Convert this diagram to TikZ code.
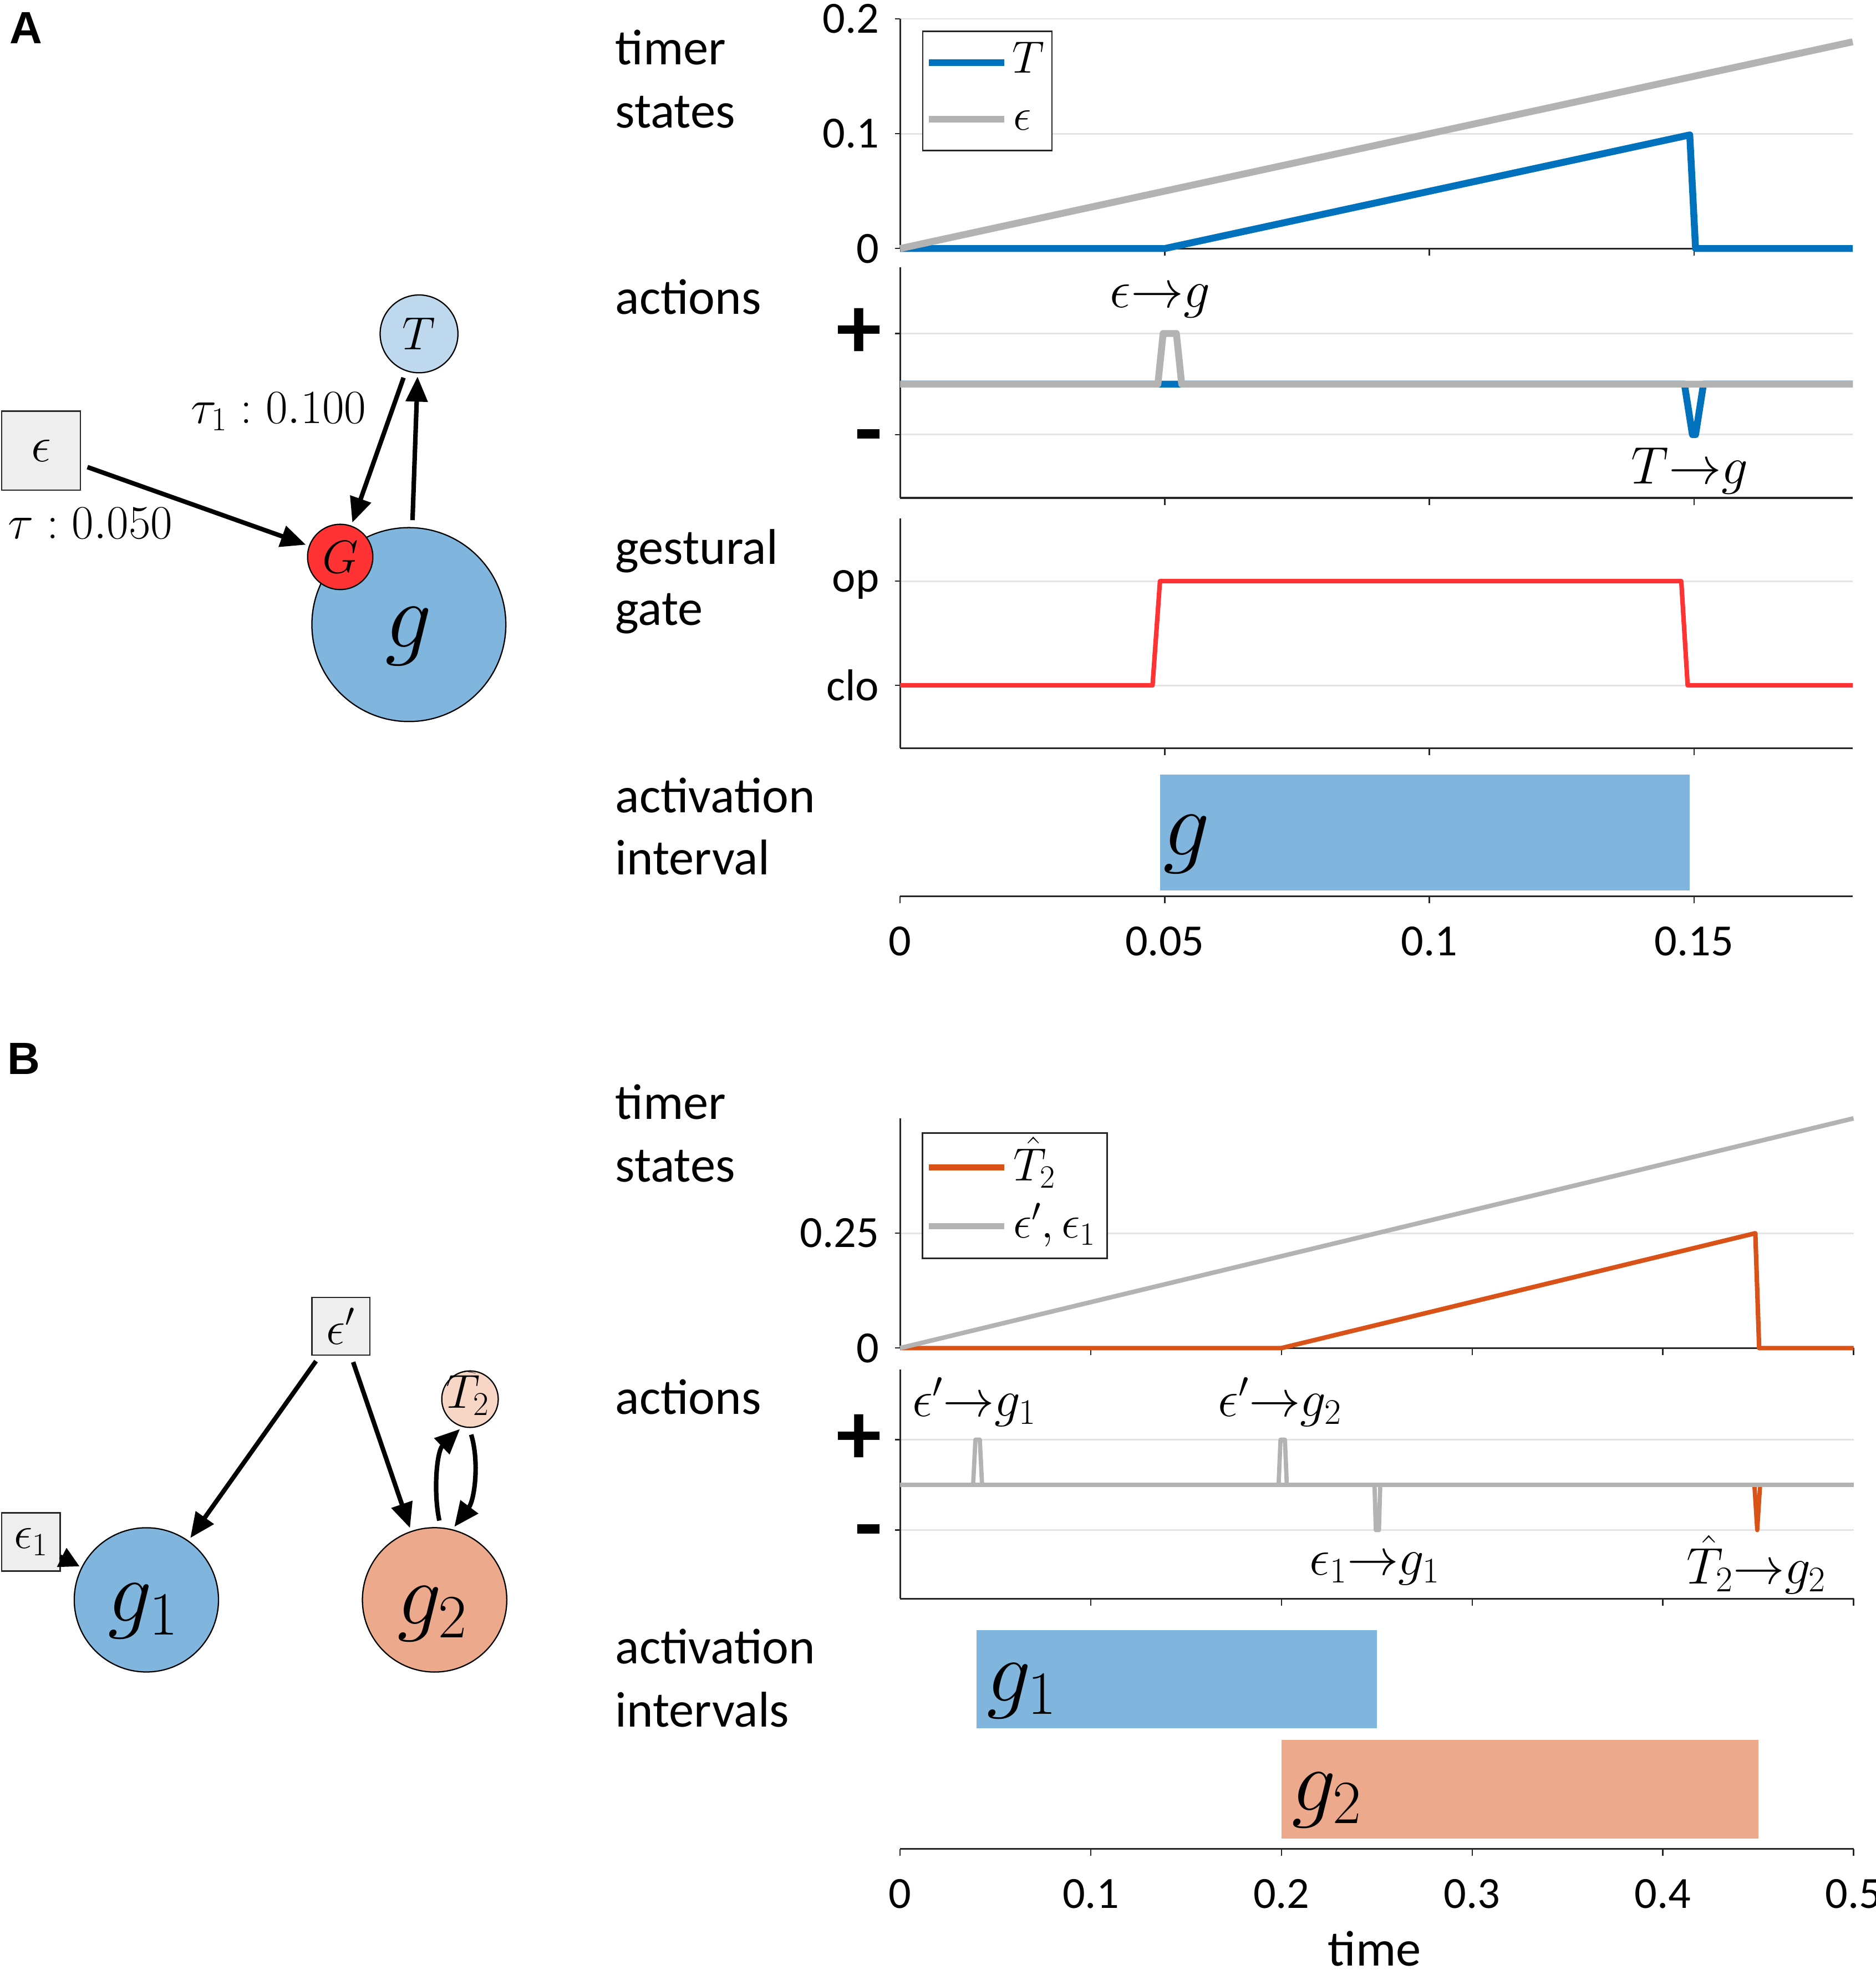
\RequirePackage{fix-cm}
\documentclass[tikz,border=0pt]{standalone}
\usepackage{graphicx}
\usepackage{fontspec}
\usetikzlibrary{arrows.meta}
\newfontfamily\carlito{Carlito}
\newfontfamily\headfont{Liberation Sans}
\newcommand\setfs[1]{\fontsize{#1}{#1}\selectfont}
\definecolor{gblue}{RGB}{128,182,222}
\definecolor{tblue}{RGB}{190,216,238}
\definecolor{gred}{RGB}{255,51,51}
\definecolor{boxgray}{RGB}{238,238,238}
\definecolor{tpeach}{RGB}{248,214,198}
\definecolor{gsalmon}{RGB}{236,169,139}
\definecolor{mblue}{RGB}{0,114,189}
\definecolor{morange}{RGB}{217,83,25}
\definecolor{lgray}{RGB}{179,179,179}
\definecolor{gridc}{RGB}{228,228,228}
\definecolor{axc}{RGB}{38,38,38}
\definecolor{gatered}{RGB}{255,51,51}
\tikzset{
  net/.style={draw=black, line width=1pt, circle, inner sep=0pt, outer sep=0pt},
  ebox/.style={draw=axc, line width=1pt, fill=boxgray, inner sep=0pt, outer sep=0pt},
  arr/.style={line width=3.6pt, -{Triangle[length=20pt,width=17pt]}, shorten <=6pt, shorten >=3pt},
  axline/.style={line width=1.4pt, draw=axc},
  gridl/.style={line width=1.3pt, draw=gridc},
  tickm/.style={line width=1pt, draw=axc},
  lab/.style={font=\carlito\setfs{40}, anchor=base west, inner sep=0pt},
  ticklab/.style={font=\carlito\setfs{35.5}, inner sep=0pt},
  ylab/.style={ticklab, anchor=east, xshift=-16.5pt},
  xlab/.style={ticklab, yshift=-36pt},
  pm/.style={font=\carlito\bfseries\setfs{72}, inner sep=0pt, anchor=east},
  panel/.style={font=\headfont\bfseries\setfs{36}, inner sep=0pt},
  mlab/.style={inner sep=0pt},
  legbox/.style={draw=axc, line width=1.2pt, fill=white},
}
\begin{document}
\begin{tikzpicture}[x=1pt, y=-1pt]
\useasboundingbox (0,0) rectangle (1494,1569.5);
\fill[white] (0,0) rectangle (1494,1569.5);

%================ PANEL A : network =================
\node[panel] (labA) at (20.9,22.5) {A};
\node[ebox, minimum width=62.6pt, minimum height=63pt, font=\setfs{40}] (eps) at (32.7,359) {$\epsilon$};
\node[net, fill=tblue, minimum size=62pt, font=\setfs{37}] (T) at (333.8,266) {$T$};
\node[net, fill=gblue, minimum size=154.5pt] (g) at (325.7,497.6) {};
\node[mlab, font=\setfs{74}] (glab) at (325.4,507) {$g$};
\node[net, fill=gred, minimum size=52pt, font=\setfs{37}] (G) at (271,443.7) {$G$};
\draw[arr] (eps) -- (G);
\draw[arr] (T) -- (G);
\draw[arr] (g) -- (T);
\node[mlab, font=\setfs{38}] (tau1) at (222,328) {$\tau_1 : 0.100$};
\node[mlab, font=\setfs{38}] (tau0) at (72,417) {$\tau : 0.050$};

%================ PANEL A : left labels =================
\node[lab] (aL1) at (490,51.5) {timer};
\node[lab] (aL2) at (490,101.6) {states};
\node[lab] (aL3) at (490,250.3) {actions};
\node[lab] (aL4) at (490,449.6) {gestural};
\node[lab] (aL5) at (490,498) {gate};
\node[lab] (aL6) at (490,647.4) {activation};
\node[lab] (aL7) at (490,696.8) {interval};

%---- A1 timer states
\begin{scope}[shift={(717,198)}, x=4216pt, y=915pt]
  \draw[gridl] (0,0.1) -- (0.18,0.1);
  \draw[gridl] (0,0.2) -- (0.18,0.2);
  \draw[axline] (0,0) -- (0.18,0);
  \draw[axline] (0,0) -- (0,0.2);
  \foreach \xx in {0.05,0.1,0.15} \draw[tickm] (\xx,0) -- ++(0pt,-5.6pt);
  \foreach \vv in {0,0.1,0.2} \draw[tickm] (0,\vv) -- ++(-4pt,0pt);
  \node[ylab] at (0,0.2) {0.2};
  \node[ylab] at (0,0.1) {0.1};
  \node[ylab] at (0,0) {0};
  \draw[mblue, line width=5.5pt, line join=round] (0,0) -- (0.05,0) -- (0.1492,0.0989) -- (0.1503,0) -- (0.18,0);
  \draw[lgray, line width=5.5pt] (0,0) -- (0.18,0.18);
\end{scope}
\draw[legbox] (735,25) rectangle (838,120);
\draw[mblue, line width=5.5pt] (740,50) -- (800,50);
\draw[lgray, line width=5.5pt] (740,95) -- (800,95);
\node[mlab, font=\setfs{36}] (legT) at (819,46) {$T$};
\node[mlab, font=\setfs{36}] (legE) at (814.5,96) {$\epsilon$};

%---- A2 actions
\begin{scope}[shift={(717,306)}, x=4216pt, y=40.3pt]
  \draw[gridl] (0,1) -- (0.18,1);
  \draw[gridl] (0,-1) -- (0.18,-1);
  \draw[axline] (0,-2.25) -- (0.18,-2.25);
  \draw[axline] (0,-2.25) -- (0,2.31);
  \foreach \xx in {0.05,0.1,0.15} \draw[tickm] (\xx,-2.25) -- ++(0pt,-5.6pt);
  \foreach \vv in {-1,1} \draw[tickm] (0,\vv) -- ++(-4pt,0pt);
  \draw[mblue, line width=5.5pt, line join=round] (0,0) -- (0.1482,0) -- (0.1497,-1) -- (0.1503,-1) -- (0.1518,0) -- (0.18,0);
  \draw[lgray, line width=5.5pt, line join=round] (0,0) -- (0.0487,0) -- (0.0497,1) -- (0.0522,1) -- (0.0532,0) -- (0.18,0);
\end{scope}
\node[pm] (aplus) at (702.5,265.5) {+};
\node[pm] (aminus) at (703,354.5) {-};
\node[mlab, font=\setfs{42}] (actA1) at (924,240) {$\epsilon{\to}g$};
\node[mlab, font=\setfs{42}] (actA2) at (1346,375) {$T{\to}g$};

%---- A3 gestural gate
\begin{scope}[shift={(717,546)}, x=4216pt, y=83pt]
  \draw[gridl] (0,0) -- (0.18,0);
  \draw[gridl] (0,1) -- (0.18,1);
  \draw[axline] (0,-0.602) -- (0.18,-0.602);
  \draw[axline] (0,-0.602) -- (0,1.602);
  \foreach \xx in {0.05,0.1,0.15} \draw[tickm] (\xx,-0.602) -- ++(0pt,-5.6pt);
  \foreach \vv in {0,1} \draw[tickm] (0,\vv) -- ++(-4pt,0pt);
  \node[ylab, yshift=-3pt] at (0,1) {op};
  \node[ylab] at (0,0) {clo};
  \draw[gatered, line width=3.6pt, line join=round] (0,0) -- (0.0477,0) -- (0.0491,1) -- (0.1476,1) -- (0.1488,0) -- (0.18,0);
\end{scope}

%---- A4 activation interval
\fill[gblue] (924,617) rectangle (1346,709.5);
\node[mlab, font=\setfs{74}] (actg) at (945,672.6) {$g$};
\begin{scope}[shift={(717,714)}, x=4216pt]
  \draw[axline] (0,0) -- (0.18,0);
  \foreach \xx in {0,0.05,0.1,0.15} \draw[tickm] (\xx,0) -- ++(0pt,-5.6pt);
  \node[xlab] at (0,0) {0};
  \node[xlab] at (0.05,0) {0.05};
  \node[xlab] at (0.1,0) {0.1};
  \node[xlab] at (0.15,0) {0.15};
\end{scope}

%================ PANEL B : network =================
\node[panel] (labB) at (19,843.5) {B};
\node[ebox, minimum width=46pt, minimum height=46pt, font=\setfs{38}] (ep) at (271.5,1056.5) {$\epsilon'$};
\node[net, fill=tpeach, minimum size=45pt] (T2) at (374.4,1114.7) {};
\node[mlab, font=\setfs{38}] (T2lab) at (372.6,1110) {$\widehat{T}_2$};
\node[ebox, minimum width=46.5pt, minimum height=46.4pt, font=\setfs{37}] (e1) at (24.65,1228.5) {$\epsilon_1$};
\node[net, fill=gblue, minimum size=114.9pt] (g1) at (116.6,1274.6) {};
\node[mlab, font=\setfs{70}] (g1lab) at (114,1283.8) {$g_1$};
\node[net, fill=gsalmon, minimum size=115pt] (g2) at (346.2,1274.6) {};
\node[mlab, font=\setfs{70}] (g2lab) at (344.4,1285.7) {$g_2$};
\draw[arr] (ep) -- (g1);
\draw[arr] (ep) -- (g2);
\draw[arr, shorten <=0pt, shorten >=2pt, -{Triangle[length=16pt,width=16pt]}] (e1) -- (g1);
\draw[arr] (g2.85) .. controls (345,1188) and (348,1156) .. (T2.255);
\draw[arr] (T2.268) .. controls (382,1165) and (378,1195) .. (g2.76);

%================ PANEL B : left labels =================
\node[lab] (bL1) at (490,891.7) {timer};
\node[lab] (bL2) at (490,941.6) {states};
\node[lab] (bL3) at (490,1126.5) {actions};
\node[lab] (bL4) at (490,1325.3) {activation};
\node[lab] (bL5) at (490,1375.9) {intervals};

%---- B1 timer states
\begin{scope}[shift={(717,1074)}, x=1519pt, y=366pt]
  \draw[gridl] (0,0.25) -- (0.5,0.25);
  \draw[axline] (0,0) -- (0.5,0);
  \draw[axline] (0,0) -- (0,0.5);
  \foreach \xx in {0.1,0.2,0.3,0.4,0.5} \draw[tickm] (\xx,0) -- ++(0pt,-5.6pt);
  \foreach \vv in {0,0.25} \draw[tickm] (0,\vv) -- ++(-4pt,0pt);
  \node[ylab] at (0,0.25) {0.25};
  \node[ylab] at (0,0) {0};
  \draw[morange, line width=3.6pt, line join=round] (0,0) -- (0.2,0) -- (0.4485,0.25) -- (0.4505,0) -- (0.5,0);
  \draw[lgray, line width=3.6pt] (0,0) -- (0.5,0.5);
\end{scope}
\draw[legbox] (734.7,902.7) rectangle (881.8,1002.5);
\draw[morange, line width=5pt] (740,930) -- (800,930);
\draw[lgray, line width=5pt] (740,977) -- (800,977);
\node[mlab, font=\setfs{37}] (legT2) at (824,926) {$\hat{T}_2$};
\node[mlab, font=\setfs{37}] (legE2) at (840,976) {$\epsilon', \epsilon_1$};

%---- B2 actions
\begin{scope}[shift={(717,1183)}, x=1519pt, y=36pt]
  \draw[gridl] (0,1) -- (0.5,1);
  \draw[gridl] (0,-1) -- (0.5,-1);
  \draw[axline] (0,-2.52) -- (0.5,-2.52);
  \draw[axline] (0,-2.52) -- (0,2.55);
  \foreach \xx in {0.1,0.2,0.3,0.4,0.5} \draw[tickm] (\xx,-2.52) -- ++(0pt,-5.6pt);
  \foreach \vv in {-1,1} \draw[tickm] (0,\vv) -- ++(-4pt,0pt);
  \draw[morange, line width=3.4pt, line join=round] (0,0) -- (0.448,0) -- (0.4495,-1) -- (0.451,0) -- (0.5,0);
  \draw[lgray, line width=3.4pt, line join=round] (0,0) -- (0.0383,0) -- (0.0395,1) -- (0.0418,1) -- (0.043,0) -- (0.1985,0) -- (0.1995,1) -- (0.2018,1) -- (0.2028,0) -- (0.5,0);
  \draw[lgray, line width=3.4pt, line join=round] (0,0) -- (0.2488,0) -- (0.2495,-1) -- (0.2511,-1) -- (0.2518,0) -- (0.5,0);
\end{scope}
\node[pm] (bplus) at (702.5,1147) {+};
\node[pm] (bminus) at (703,1226.5) {-};
\node[mlab, font=\setfs{41}] (actB1) at (776,1117) {$\epsilon'{\to}g_1$};
\node[mlab, font=\setfs{41}] (actB2) at (1019.5,1117) {$\epsilon'{\to}g_2$};
\node[mlab, font=\setfs{41}] (actB3) at (1095,1250) {$\epsilon_1{\to}g_1$};
\node[mlab, font=\setfs{41}] (actB4) at (1399,1246.5) {$\hat{T}_2{\to}g_2$};

%---- B3 activation intervals
\fill[gblue] (777.8,1298.6) rectangle (1096.8,1377);
\fill[gsalmon] (1020.8,1386) rectangle (1400.6,1465);
\node[mlab, font=\setfs{70}] (actg1) at (814,1347) {$g_1$};
\node[mlab, font=\setfs{70}] (actg2) at (1057,1434) {$g_2$};
\begin{scope}[shift={(717,1473)}, x=1519pt]
  \draw[axline] (0,0) -- (0.5,0);
  \foreach \xx in {0,0.1,0.2,0.3,0.4,0.5} {
    \draw[tickm] (\xx,0) -- ++(0pt,-5.6pt);
    \node[xlab] at (\xx,0) {\xx};
  }
\end{scope}
\node[font=\carlito\setfs{40}, anchor=base, inner sep=0pt] (timelab) at (1095,1566) {time};
\end{tikzpicture}
\end{document}
